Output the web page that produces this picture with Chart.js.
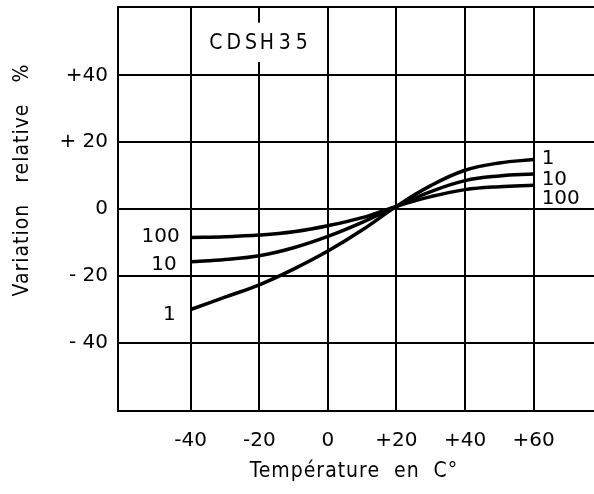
<!DOCTYPE html>
<html>
<head>
<meta charset="utf-8">
<script src="https://cdn.jsdelivr.net/npm/chart.js@4.4.0/dist/chart.umd.min.js"></script>
<style>
  body { margin: 0; background: #fff; }
  canvas { display: block; }
</style>
</head>
<body>
<canvas id="myChart" width="594" height="494"></canvas>
<script>
// Temperatures (°C) and relative variation (%) for each curve
const temperatures = [-40, -30, -20, -10, 0, 10, 20, 30, 40, 50, 60];
const curve1   = [-30.1, -26.4, -22.7, -18.0, -12.6, -6.3, 0.8, 7.0, 11.6, 13.8, 14.8];
const curve10  = [-15.8, -15.1, -14.0, -11.6, -8.2, -4.0, 0.8, 5.2, 8.5, 9.9, 10.5];
const curve100 = [-8.5, -8.3, -7.8, -6.8, -5.0, -2.6, 0.8, 3.7, 5.8, 6.7, 7.1];
const curveNames = ['1', '10', '100'];

const xTicks = [-40, -20, 0, 20, 40, 60];
const xTickLabels = ['-40', '-20', '0', '+20', '+40', '+60'];
const yTicks = [-40, -20, 0, 20, 40];
const yTickLabels = ['- 40', '- 20', '0', '+ 20', '+40'];

const ctx = document.getElementById('myChart').getContext('2d');
const tickFont = { family: 'DejaVu Sans', size: 20 };

function makeDataset(label, values) {
    return {
        label: label,
        data: temperatures.map((t, i) => ({ x: t, y: values[i] })),
        borderColor: '#000',
        borderWidth: 3.5,
        pointRadius: 0,
        fill: false,
        tension: 0.4
    };
}

// labels at both ends of each curve
const leftDx = [-15, -14, -11], leftDy = [5, 3, -1];
const rightDy = [-1, 6, 14];
const curveLabels = {
    id: 'curveLabels',
    afterDatasetsDraw(chart) {
        const c = chart.ctx;
        c.save();
        c.font = '20px "DejaVu Sans"';
        c.fillStyle = '#000';
        c.textBaseline = 'middle';
        chart.data.datasets.forEach((ds, i) => {
            const pts = chart.getDatasetMeta(i).data;
            const first = pts[0], last = pts[pts.length - 1];
            c.textAlign = 'right';
            c.fillText(ds.label, first.x + leftDx[i], first.y + leftDy[i]);
            c.textAlign = 'left';
            c.fillText(ds.label, last.x + 8, last.y + rightDy[i]);
        });
        c.restore();
    }
};

// axis titles, top frame line and the CDSH35 tag
const decorations = {
    id: 'decorations',
    beforeDatasetsDraw(chart) {
        const c = chart.ctx, a = chart.chartArea;
        const xs = chart.scales.x, ys = chart.scales.y;
        c.save();
        // blank box behind the tag
        c.fillStyle = '#fff';
        c.fillRect(xs.getPixelForValue(-37), ys.getPixelForValue(55.8),
                   xs.getPixelForValue(-2) - xs.getPixelForValue(-37),
                   ys.getPixelForValue(44) - ys.getPixelForValue(55.8));
        c.fillStyle = '#000';
        c.font = '21px "DejaVu Sans Condensed", "DejaVu Sans"';
        c.letterSpacing = '4px';
        c.textBaseline = 'middle';
        c.textAlign = 'left';
        c.fillText('CDS', xs.getPixelForValue(-34.6), ys.getPixelForValue(49.5));
        c.letterSpacing = '5px';
        c.fillText('H35', xs.getPixelForValue(-19.9), ys.getPixelForValue(49.5));
        c.letterSpacing = '0px';
        // top frame
        c.strokeStyle = '#000';
        c.lineWidth = 2;
        c.beginPath();
        c.moveTo(a.left, a.top);
        c.lineTo(a.right, a.top);
        c.stroke();
        // axis titles
        c.font = '21px "DejaVu Sans Condensed", "DejaVu Sans"';
        c.letterSpacing = '1px';
        c.textAlign = 'center';
        c.fillText('Température  en  C°', a.left + 236, a.bottom + 61);
        c.translate(a.left - 95, a.top + 173);
        c.rotate(-Math.PI / 2);
        c.fillText('Variation   relative   %', 0, 0);
        c.restore();
    }
};

const myChart = new Chart(ctx, {
    type: 'line',
    data: {
        datasets: [
            makeDataset(curveNames[0], curve1),
            makeDataset(curveNames[1], curve10),
            makeDataset(curveNames[2], curve100)
        ]
    },
    options: {
        responsive: false,
        animation: false,
        layout: { padding: { top: 7, right: 0, left: 0, bottom: 0 } },
        scales: {
            x: {
                type: 'linear',
                min: -61.2,
                max: 77.6,
                afterFit: s => { s.height = 83; s.paddingLeft = 0; s.paddingRight = 0; },
                afterBuildTicks: s => { s.ticks = xTicks.map(v => ({ value: v })); },
                grid: { color: '#000', lineWidth: 2, drawTicks: false },
                border: { color: '#000', width: 2 },
                ticks: {
                    color: '#000',
                    font: tickFont,
                    padding: 18,
                    maxRotation: 0,
                    callback: (v) => xTickLabels[xTicks.indexOf(v)]
                }
            },
            y: {
                min: -60.5,
                max: 60.5,
                afterFit: s => { s.width = 118; s.paddingTop = 0; s.paddingBottom = 0; },
                afterBuildTicks: s => { s.ticks = yTicks.map(v => ({ value: v })); },
                grid: { color: '#000', lineWidth: 2, drawTicks: false },
                border: { color: '#000', width: 2 },
                ticks: {
                    color: '#000',
                    font: tickFont,
                    padding: 10,
                    callback: (v) => yTickLabels[yTicks.indexOf(v)]
                }
            }
        },
        plugins: {
            legend: { display: false },
            tooltip: { enabled: false }
        }
    },
    plugins: [decorations, curveLabels]
});
</script>
</body>
</html>
